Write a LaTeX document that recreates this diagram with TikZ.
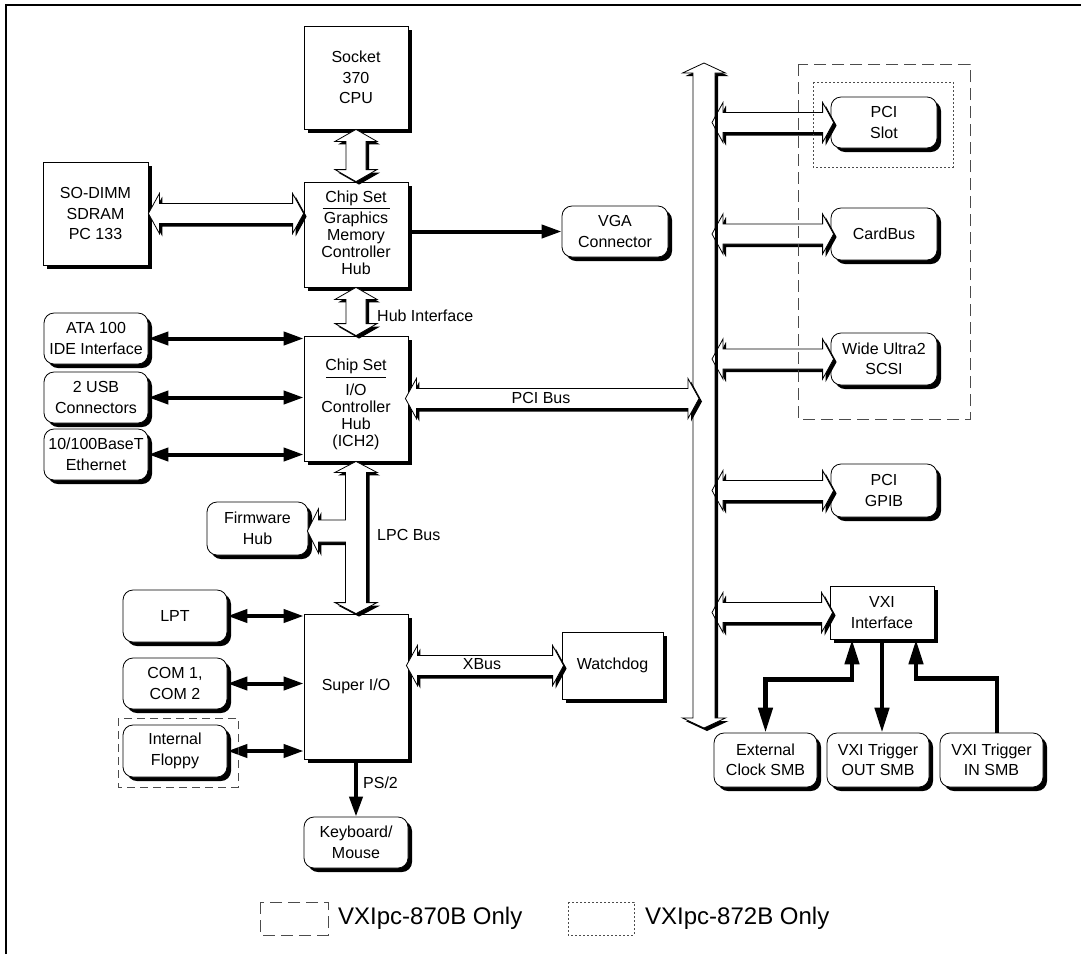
\documentclass[tikz,border=0pt]{standalone}
\usepackage{fontspec}
\setmainfont{Liberation Sans}
\usetikzlibrary{arrows.meta,shadows,calc}

\tikzset{
 bx/.style={draw=black, line width=0.8pt, fill=white, inner sep=0pt, align=center,
   font=\fontsize{16}{20.5}\selectfont,
   drop shadow={shadow xshift=4pt, shadow yshift=-4pt, opacity=1, fill=black}},
 rbx/.style={bx, rounded corners=10pt},
 wh/.style 2 args={minimum width=#1pt, minimum height=#2pt},
 lbl/.style={inner sep=0pt, font=\fontsize{16}{20.5}\selectfont},
 chip/.style={inner sep=0pt, align=center, font=\fontsize{16}{17}\selectfont},
 fatline/.style={fill=white, draw=black, line width=0.8pt, line join=miter},
 conn/.style={line width=4pt, -{Triangle[length=20pt,width=13pt]}},
 dconn/.style={line width=4pt, {Triangle[length=20pt,width=13pt]}-{Triangle[length=20pt,width=13pt]}},
 vconn/.style={line width=4.5pt, -{Triangle[length=25pt,width=14pt]}},
 dvconn/.style={line width=4.5pt, {Triangle[length=25pt,width=14pt]}-{Triangle[length=25pt,width=14pt]}},
 only870/.style={draw=black!70, line width=0.8pt, dash pattern=on 12pt off 6pt},
 only872/.style={draw=black!70, line width=0.8pt, dash pattern=on 2pt off 2pt},
}

% horizontal fat double arrow: #1 left tip, #2 right tip
\newcommand\fatHpath[2]{(#1) -- ([shift={(11,-20)}]#1) -- ([shift={(11,-10)}]#1) -- ([shift={(-11,-10)}]#2) -- ([shift={(-11,-20)}]#2) -- (#2) -- ([shift={(-11,20)}]#2) -- ([shift={(-11,10)}]#2) -- ([shift={(11,10)}]#1) -- ([shift={(11,20)}]#1) -- cycle}
\newcommand\fatH[2]{%
 \begin{scope}[transform canvas={shift={(3pt,-3pt)}}]\fill[black] \fatHpath{#1}{#2};\end{scope}
 \filldraw[fatline] \fatHpath{#1}{#2};}
% vertical fat double arrow: #1 top tip, #2 bottom tip, #3 shaft half, #4 head half, #5 head length
\newcommand\fatVpath[5]{(#1) -- ([shift={(#4,#5)}]#1) -- ([shift={(#3,#5)}]#1) -- ([shift={(#3,-#5)}]#2) -- ([shift={(#4,-#5)}]#2) -- (#2) -- ([shift={(-#4,-#5)}]#2) -- ([shift={(-#3,-#5)}]#2) -- ([shift={(-#3,#5)}]#1) -- ([shift={(-#4,#5)}]#1) -- cycle}
\newcommand\fatV[5]{%
 \begin{scope}[transform canvas={shift={(3pt,-3pt)}}]\fill[black] \fatVpath{#1}{#2}{#3}{#4}{#5};\end{scope}
 \filldraw[fatline] \fatVpath{#1}{#2}{#3}{#4}{#5};}
% LPC bus with firmware hub branch
\newcommand\lpcpath{(ich2.south) -- ++(21,11) -- ++(-10.5,0) -- ($(sio.north)+(10.5,-11)$) -- ++(10.5,0) -- (sio.north) -- ++(-21,-11) -- ++(10.5,0) -- ($(S)+(-10.5,11)$) -- ($(F)+(11,11)$) -- ++(0,11) -- (F) -- ++(11,-22) -- ++(0,11) -- ($(S)+(-10.5,-11)$) -- ($(ich2.south)+(-10.5,11)$) -- ++(-10.5,0) -- cycle}
\newcommand\chiprule[1]{\rule{#1}{0.7pt}}

\begin{document}
\lineskiplimit=-20pt\relax
\begin{tikzpicture}[x=1pt,y=-1pt]
\useasboundingbox (0,0) rectangle (1081,954);
% frame
\draw[line width=2.2pt] (6,954) -- (6,5) -- (1081,5);

% boxes
\node[bx, wh={104}{103}] (cpu) at (356,77.5) {Socket\\370\\CPU};
\node[bx, wh={104}{105}] (gmch) at (356,234.5) {};
\node[chip] (gmcht) at (356,232.6) {Chip Set\\[-10.5pt]\chiprule{67pt}\\[-2pt]Graphics\\Memory\\Controller\\Hub};
\node[bx, wh={104}{125}] (ich2) at (356,398.5) {};
\node[chip] (ich2t) at (356,404.8) {Chip Set\\[-10.3pt]\chiprule{60pt}\\[1.3pt]I/O\\Controller\\Hub\\(ICH2)};
\node[bx, wh={104}{145}] (sio) at (356,686.5) {Super I/O};
\node[rbx, wh={104}{51}] (kbd) at (356,842.5) {Keyboard/\\Mouse};
\node[bx, wh={105}{103}] (sodimm) at (95.5,213.5) {SO-DIMM\\SDRAM\\PC 133};
\node[rbx, wh={104}{51}] (ata) at (96,338.5) {ATA 100\\IDE Interface};
\node[rbx, wh={104}{51}] (usb) at (96,397.5) {2 USB\\Connectors};
\node[rbx, wh={104}{51}] (eth) at (96,454.5) {10/100BaseT\\Ethernet};
\node[rbx, wh={101}{53}] (fw) at (257.5,528.5) {Firmware\\Hub};
\node[rbx, wh={104}{52}] (lpt) at (175,616) {LPT};
\node[rbx, wh={104}{51}] (com) at (175,683.5) {COM 1,\\COM 2};
\node[rbx, wh={104}{52}] (flp) at (175,751) {Internal\\Floppy};
\node[rbx, wh={106}{51}] (vga) at (615,231.5) {VGA\\Connector};
\node[bx, wh={101}{67}] (wd) at (612.5,665.5) {Watchdog};
\node[rbx, wh={106}{51}] (pcislot) at (884,122.5) {PCI\\Slot};
\node[rbx, wh={106}{52}] (cardbus) at (884,234) {CardBus};
\node[rbx, wh={106}{52}] (scsi) at (884,359) {Wide Ultra2\\SCSI};
\node[rbx, wh={106}{53}] (gpib) at (884,490.5) {PCI\\GPIB};
\node[bx, wh={104}{53}] (vxi) at (882,612.5) {VXI\\Interface};
\node[rbx, wh={103}{54}] (extclk) at (765.5,760) {External\\Clock SMB};
\node[rbx, wh={102}{54}] (trigout) at (878,760) {VXI Trigger\\OUT SMB};
\node[rbx, wh={103}{54}] (trigin) at (991.5,760) {VXI Trigger\\IN SMB};

% thin connectors
\draw[conn] (gmch.east |- vga.west) -- (vga.west);
\draw[dconn] (ata.east) -- (ata.east -| ich2.west);
\draw[dconn] (usb.east) -- (usb.east -| ich2.west);
\draw[dconn] (eth.east) -- (eth.east -| ich2.west);
\draw[dconn] (lpt.east) -- (lpt.east -| sio.west);
\draw[dconn] (com.east) -- (com.east -| sio.west);
\draw[dconn] (flp.east) -- (flp.east -| sio.west);
\draw[conn] (sio.south) -- (kbd.north);
\draw[dvconn] ($(vxi.south)+(-30,0)$) -- ++(0,40) -| (extclk.north);
\draw[vconn] (vxi.south) -- (vxi.south |- trigout.north);
\draw[vconn] ($(trigin.north)+(5.5,0)$) -- ++(0,-54) -| ($(vxi.south)+(34,0)$);

% fat arrows
\coordinate (m1) at (sodimm.east);
\coordinate (m2) at (sodimm.east -| gmch.west);
\fatH{m1}{m2}
\fatV{cpu.south}{gmch.north}{10}{21}{12}
\fatV{gmch.south}{ich2.north}{10}{21}{12}
\coordinate (F) at ($(fw.east)+(-1,2.5)$);
\coordinate (S) at (F -| ich2.south);
\begin{scope}[transform canvas={shift={(3pt,-3pt)}}]\fill[black] \lpcpath;\end{scope}
\filldraw[fatline] \lpcpath;

% PCI bus (vertical)
\coordinate (bustop) at (704,63);
\coordinate (busbot) at (704,728);
\fatV{bustop}{busbot}{11}{21.5}{10}
\coordinate (p1) at ($(ich2.east)+(-3,0)$);
\coordinate (p2) at ($(p1 -| bustop)+(-5,0)$);
\fatH{p1}{p2}
\coordinate (x1) at ($(sio.east |- wd.west)+(-2,0)$);
\coordinate (x2) at ($(wd.west)+(2,0)$);
\fatH{x1}{x2}
\foreach \n in {pcislot,cardbus,scsi,gpib,vxi}{
  \coordinate (bl) at ($(\n.west -| bustop)+(8,0)$);
  \coordinate (br) at ($(\n.west)+(3,0)$);
  \fatH{bl}{br}
}
\draw[line width=3.4pt] ($(bustop)+(12.3,13)$) -- ($(busbot)+(12.3,-11)$);

% labels
\node[lbl, anchor=west] (hubif) at (377,316) {Hub Interface};
\node[lbl] (pcibus) at (541,398) {PCI Bus};
\node[lbl] (xbus) at (482,664) {XBus};
\node[lbl, anchor=west] (lpcbus) at (377,535) {LPC Bus};
\node[lbl, anchor=west] (ps2) at (363,783) {PS/2};

% option frames
\draw[only870] (798,64) rectangle (970,419);
\draw[only872] (813,82) rectangle (953,167);
\draw[only870, dash pattern=on 8pt off 5pt] (118,718) rectangle (238,787);

% legend
\draw[only870] (260,902) rectangle (328,935);
\node[inner sep=0pt, anchor=west, font=\fontsize{24}{28}\selectfont] (leg1) at (338,918) {VXIpc-870B Only};
\draw[only872] (568,902) rectangle (634,935);
\node[inner sep=0pt, anchor=west, font=\fontsize{24}{28}\selectfont] (leg2) at (645,918) {VXIpc-872B Only};
\end{tikzpicture}
\end{document}
